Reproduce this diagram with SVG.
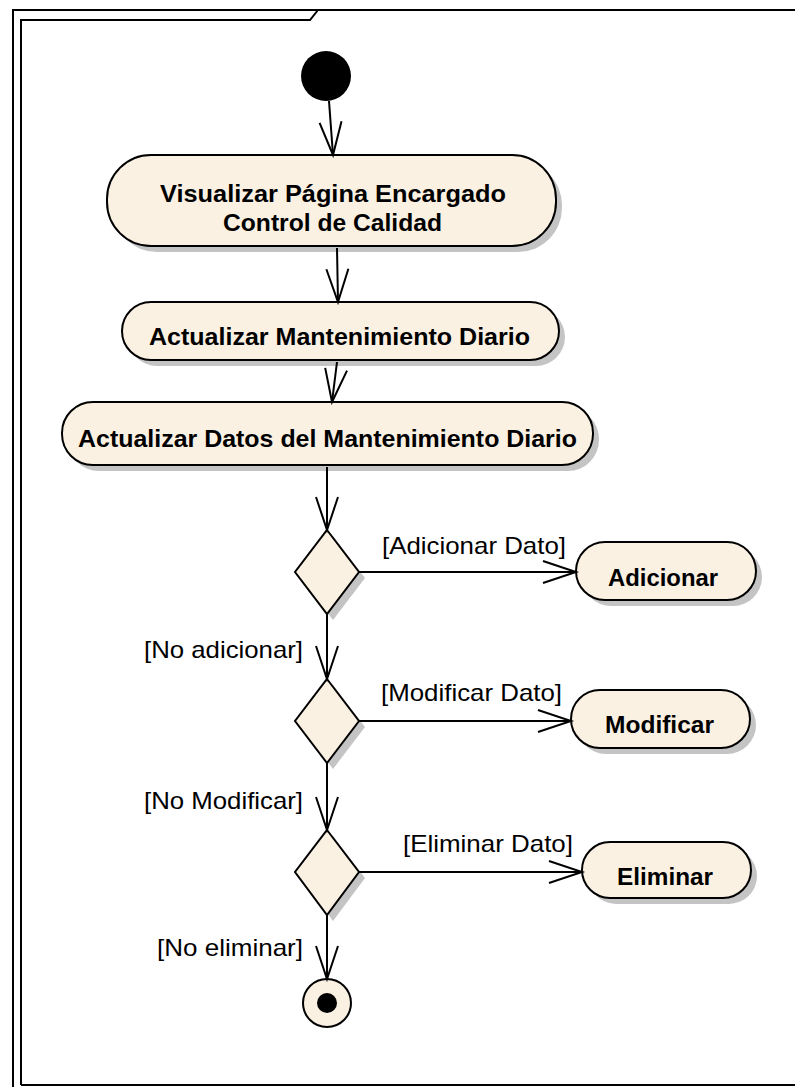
<svg xmlns="http://www.w3.org/2000/svg" width="795" height="1087" viewBox="0 0 795 1087">
<style>
.nd{fill:#FBF1E3;stroke:#000;stroke-width:2}
.sh{fill:#C4C4C4}
.bt{font-family:"Liberation Sans",Arial,sans-serif;font-weight:bold;font-size:24px;fill:#000}
.lb{font-family:"Liberation Sans",Arial,sans-serif;font-size:24px;fill:#000}
.cn{fill:none;stroke:#000;stroke-width:2}
.fr{fill:none;stroke:#000;stroke-width:2}
</style>
<defs>
<marker id="arr" markerUnits="userSpaceOnUse" viewBox="-36 -14 38 28" markerWidth="38" markerHeight="28" refX="0" refY="0" orient="auto" overflow="visible">
<path d="M-33,-11 L0,0 L-33,11" fill="none" stroke="#000" stroke-width="2"/>
</marker>
</defs>
<rect width="795" height="1087" fill="#fff"/>
<g id="frame">
<path class="fr" d="M13,1087 L13,10 L795,10"/>
<path class="fr" d="M21,1085 L21,20 L310,20 L318,10"/>
<path class="fr" d="M21,1085 L795,1085"/>
</g>
<g id="start">
<circle cx="326" cy="76" r="25" fill="#000"/>
</g>
<g id="node1">
<rect class="sh" x="113" y="161" width="449" height="91" rx="44"/>
<rect class="nd" x="107" y="155" width="449" height="91" rx="44"/>
<text class="bt" x="160" y="202" textLength="346" lengthAdjust="spacingAndGlyphs">Visualizar Página Encargado</text>
<text class="bt" x="223" y="231" textLength="219" lengthAdjust="spacingAndGlyphs">Control de Calidad</text>
</g>
<g id="node2">
<rect class="sh" x="128" y="308" width="437" height="58" rx="29"/>
<rect class="nd" x="122" y="302" width="437" height="58" rx="29"/>
<text class="bt" x="149" y="345" textLength="381" lengthAdjust="spacingAndGlyphs">Actualizar Mantenimiento Diario</text>
</g>
<g id="node3">
<rect class="sh" x="68" y="408" width="531" height="63" rx="31"/>
<rect class="nd" x="62" y="402" width="531" height="63" rx="31"/>
<text class="bt" x="78" y="447" textLength="499" lengthAdjust="spacingAndGlyphs">Actualizar Datos del Mantenimiento Diario</text>
</g>
<g id="decision1">
<polygon class="sh" points="333,536 365,578 333,620 301,578"/>
<polygon class="nd" points="327,530 359,572 327,614 295,572"/>
</g>
<g id="adicionar">
<rect class="sh" x="582" y="548" width="180" height="58" rx="29"/>
<rect class="nd" x="576" y="542" width="180" height="58" rx="29"/>
<text class="bt" x="608" y="586" textLength="110" lengthAdjust="spacingAndGlyphs">Adicionar</text>
</g>
<g id="decision2">
<polygon class="sh" points="333,685 365,727 333,769 301,727"/>
<polygon class="nd" points="327,679 359,721 327,763 295,721"/>
</g>
<g id="modificar">
<rect class="sh" x="577" y="696" width="179" height="58" rx="29"/>
<rect class="nd" x="571" y="690" width="179" height="58" rx="29"/>
<text class="bt" x="605" y="733" textLength="109" lengthAdjust="spacingAndGlyphs">Modificar</text>
</g>
<g id="decision3">
<polygon class="sh" points="333,836 365,878 333,921 301,878"/>
<polygon class="nd" points="327,830 359,872 327,915 295,872"/>
</g>
<g id="eliminar">
<rect class="sh" x="588" y="848" width="169" height="56" rx="28"/>
<rect class="nd" x="582" y="842" width="169" height="56" rx="28"/>
<text class="bt" x="617" y="885" textLength="96" lengthAdjust="spacingAndGlyphs">Eliminar</text>
</g>
<g id="final">
<circle class="nd" cx="327" cy="1003" r="24"/>
<circle cx="327" cy="1003" r="10" fill="#000"/>
</g>
<g id="connectors">
<line class="cn" x1="329" y1="101" x2="333" y2="155" marker-end="url(#arr)"/>
<line class="cn" x1="337" y1="248" x2="338" y2="302" marker-end="url(#arr)"/>
<line class="cn" x1="337" y1="362" x2="332" y2="402" marker-end="url(#arr)"/>
<line class="cn" x1="327" y1="467" x2="327" y2="530" marker-end="url(#arr)"/>
<line class="cn" x1="359" y1="572" x2="576" y2="572" marker-end="url(#arr)"/>
<line class="cn" x1="327" y1="614" x2="327" y2="679" marker-end="url(#arr)"/>
<line class="cn" x1="359" y1="721" x2="571" y2="721" marker-end="url(#arr)"/>
<line class="cn" x1="327" y1="763" x2="327" y2="830" marker-end="url(#arr)"/>
<line class="cn" x1="359" y1="872" x2="582" y2="872" marker-end="url(#arr)"/>
<line class="cn" x1="327" y1="915" x2="327" y2="979" marker-end="url(#arr)"/>
<text class="lb" x="382" y="554" textLength="184" lengthAdjust="spacingAndGlyphs">[Adicionar Dato]</text>
<text class="lb" x="144" y="658" textLength="159" lengthAdjust="spacingAndGlyphs">[No adicionar]</text>
<text class="lb" x="381" y="701" textLength="181" lengthAdjust="spacingAndGlyphs">[Modificar Dato]</text>
<text class="lb" x="144" y="809" textLength="159" lengthAdjust="spacingAndGlyphs">[No Modificar]</text>
<text class="lb" x="403" y="852" textLength="170" lengthAdjust="spacingAndGlyphs">[Eliminar Dato]</text>
<text class="lb" x="157" y="956" textLength="146" lengthAdjust="spacingAndGlyphs">[No eliminar]</text>
</g>
</svg>
